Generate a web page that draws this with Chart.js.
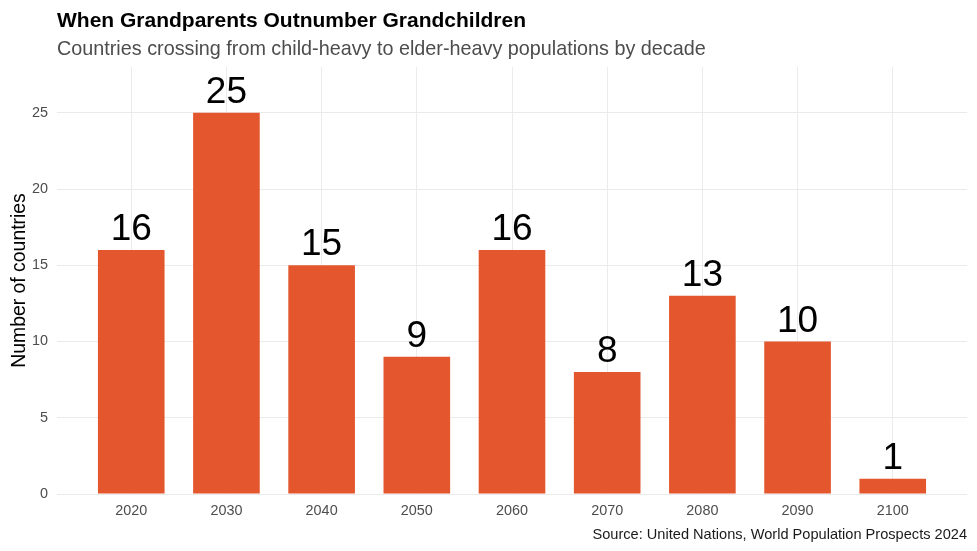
<!DOCTYPE html>
<html>
<head>
<meta charset="utf-8">
<script src="https://cdn.jsdelivr.net/npm/chart.js@4"></script>
<style>
  html, body { margin: 0; padding: 0; background: #ffffff; }
  #wrap { width: 977px; height: 551px; position: relative; }
</style>
</head>
<body>
<div id="wrap"><canvas id="decadeChart" width="977" height="551"></canvas></div>
<script>
const decades = ['2020', '2030', '2040', '2050', '2060', '2070', '2080', '2090', '2100'];
const countries = [16, 25, 15, 9, 16, 8, 13, 10, 1];
const yTicks = [0, 5, 10, 15, 20, 25];

const titleText = 'When Grandparents Outnumber Grandchildren';
const subtitleText = 'Countries crossing from child-heavy to elder-heavy populations by decade';
const captionText = 'Source: United Nations, World Population Prospects 2024';
const yTitleText = 'Number of countries';

const barColor = '#E4572E';
const gridColor = '#EBEBEB';
const fontFamily = 'Arial, "Liberation Sans", sans-serif';

// text around the panel + value labels on the bars
const annotations = {
    id: 'annotations',
    afterDatasetsDraw(chart) {
        const ctx = chart.ctx;
        const area = chart.chartArea;
        ctx.save();

        // value labels
        const meta = chart.getDatasetMeta(0);
        ctx.fillStyle = '#000000';
        ctx.font = '37px ' + fontFamily;
        ctx.textAlign = 'center';
        ctx.textBaseline = 'alphabetic';
        meta.data.forEach((bar, i) => {
            ctx.fillText(String(countries[i]), bar.x, bar.y - 10);
        });

        // title + subtitle
        ctx.textAlign = 'left';
        ctx.fillStyle = '#000000';
        ctx.font = 'bold 21px ' + fontFamily;
        ctx.fillText(titleText, area.left, 27);
        ctx.fillStyle = '#4D4D4D';
        ctx.font = '19.8px ' + fontFamily;
        ctx.fillText(subtitleText, area.left, 55);

        // caption
        ctx.textAlign = 'right';
        ctx.fillStyle = '#1A1A1A';
        ctx.font = '14.6px ' + fontFamily;
        ctx.fillText(captionText, area.right, 539);

        // y axis title
        ctx.translate(25, (area.top + area.bottom) / 2);
        ctx.rotate(-Math.PI / 2);
        ctx.textAlign = 'center';
        ctx.fillStyle = '#000000';
        ctx.font = '19.4px ' + fontFamily;
        ctx.fillText(yTitleText, 0, 0);

        ctx.restore();
    }
};

const ctx = document.getElementById('decadeChart').getContext('2d');
new Chart(ctx, {
    type: 'bar',
    data: {
        datasets: [{
            data: countries.map((v, i) => ({ x: i + 1, y: v })),
            backgroundColor: barColor,
            borderWidth: 0,
            barPercentage: 0.7,
            categoryPercentage: 1.0
        }]
    },
    options: {
        responsive: false,
        animation: false,
        layout: {
            padding: { top: 67, right: 10, bottom: 0, left: 0 }
        },
        plugins: {
            legend: { display: false },
            tooltip: { enabled: false }
        },
        scales: {
            x: {
                type: 'linear',
                offset: false,
                min: 0.22,
                max: 9.78,
                afterBuildTicks: scale => {
                    scale.ticks = decades.map((d, i) => ({ value: i + 1 }));
                },
                afterFit: scale => { scale.height = 57; },
                ticks: {
                    autoSkip: false,
                    maxRotation: 0,
                    padding: 8,
                    color: '#4D4D4D',
                    font: { family: fontFamily, size: 14.4 },
                    callback: value => decades[value - 1]
                },
                grid: { color: gridColor, lineWidth: 1, drawTicks: false, offset: false },
                border: { display: false }
            },
            y: {
                min: 0,
                max: 28,
                afterBuildTicks: scale => {
                    scale.ticks = yTicks.map(v => ({ value: v }));
                },
                afterFit: scale => { scale.width = 57; },
                ticks: {
                    padding: 9,
                    color: '#4D4D4D',
                    font: { family: fontFamily, size: 14.4 }
                },
                grid: { color: gridColor, lineWidth: 1, drawTicks: false },
                border: { display: false }
            }
        }
    },
    plugins: [annotations]
});
</script>
</body>
</html>
